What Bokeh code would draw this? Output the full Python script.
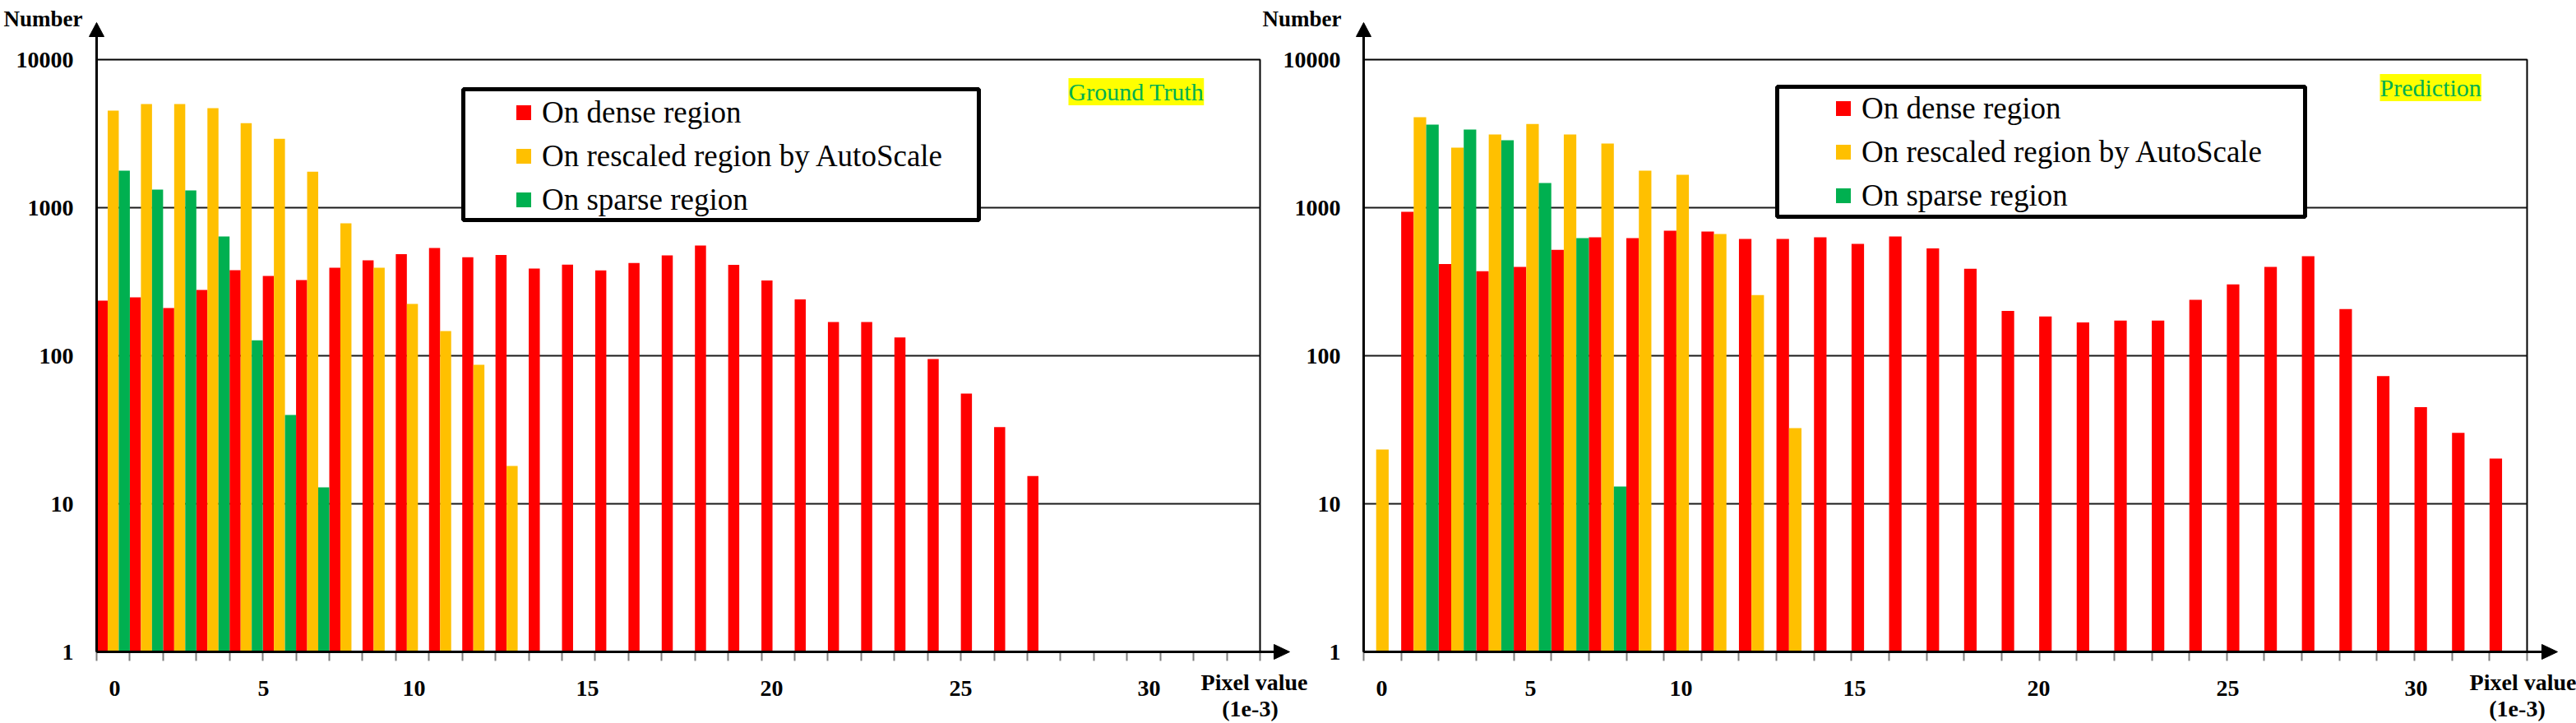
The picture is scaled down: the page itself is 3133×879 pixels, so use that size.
from bokeh.plotting import figure
from bokeh.layouts import row
from bokeh.models import (FixedTicker, PrintfTickFormatter, Label, BoxAnnotation, Legend,
                          LegendItem, Range1d)
from bokeh.core.properties import value
from bokeh.embed import file_html
from bokeh.resources import INLINE

# ---------------- data ----------------
series_names = ["On dense region", "On rescaled region by AutoScale", "On sparse region"]
series_colors = ["#FF0000", "#FFC000", "#00B050"]

# Ground Truth panel: 35 pixel-value bins (0..34)
gt_bins = 35
gt_dense = [236, 248, 210, 278, 378, 346, 324, 393, 441, 486, 534, 463, 479, 388, 412,
            377, 423, 476, 555, 411, 322, 240, 169, 169, 133, 95, 55.5, 33, 15.4]
gt_rescaled = [4520, 5010, 5010, 4700, 3720, 2920, 1750, 784, 393, 224, 147, 87, 18.0]
gt_sparse = [1780, 1325, 1309, 640, 127, 39.8, 12.9]

# Prediction panel: 31 pixel-value bins (0..30)
pr_bins = 31
pr_dense = [None, 938, 417, 372, 398, 519, 631, 622, 698, 690, 615, 615, 631, 570, 640,
            531, 387, 201, 184, 168, 173, 173, 239, 303, 398, 470, 207, 72.8, 45, 30.1, 20.2]
pr_rescaled = [23.3, 4080, 2545, 3120, 3670, 3120, 2710, 1778, 1668, 664, 257, 32.4]
pr_sparse = [None, 3640, 3370, 2855, 1469, 622, 13.1]

xtick_labels = ["0", "5", "10", "15", "20", "25", "30"]
ytick_values = [1, 10, 100, 1000, 10000]
y_title = "Number"
x_title = ["Pixel value", "(1e-3)"]

# ---------------- layout / style constants ----------------
FONT = "Liberation Serif"
FRAME_W, FRAME_H = 1415, 720
TOP_B, BOT_B = 72, 87
FIG_H = TOP_B + FRAME_H + BOT_B
DECADE_PX = FRAME_H / 4.0
BASE_Y = TOP_B + FRAME_H
xlabel_offsets_px = [22, 203, 386, 597, 821, 1051, 1280]


def make_panel(n, series, ax_x, fig_left, width, margin_left, tag, tag_px, box_px,
               leg_px, num_left, pv_cx, e3_cx, tip_x):
    cw = FRAME_W / n
    min_left = ax_x - fig_left
    min_right = width - min_left - FRAME_W

    def X(px):
        return (px - ax_x) / cw

    def Y(py):
        return 10 ** ((BASE_Y - py) / DECADE_PX)

    p = figure(width=width, height=FIG_H, x_range=Range1d(0, n), y_range=Range1d(1, 10000),
               y_axis_type="log", output_backend="svg", toolbar_location=None,
               min_border_left=min_left, min_border_right=min_right,
               min_border_top=TOP_B, min_border_bottom=BOT_B,
               border_fill_color=None, background_fill_color="white",
               outline_line_color="black", outline_line_width=2,
               margin=(0, 0, 0, margin_left))

    # y axis
    ya = p.yaxis[0]
    ya.ticker = FixedTicker(ticks=ytick_values)
    ya.formatter = PrintfTickFormatter(format="%d")
    ya.major_tick_out = 0
    ya.major_tick_in = 0
    ya.minor_tick_out = 0
    ya.minor_tick_in = 0
    ya.axis_line_color = None
    ya.major_label_standoff = 28
    ya.major_label_text_font = FONT
    ya.major_label_text_font_size = "28px"
    ya.major_label_text_font_style = "bold"
    ya.major_label_text_color = "black"

    # x axis: labels on major ticks, bin boundaries as minor ticks
    xa = p.xaxis[0]
    pos = [o / cw for o in xlabel_offsets_px]
    xa.ticker = FixedTicker(ticks=pos, minor_ticks=list(range(n + 1)))
    xa.major_label_overrides = {ps: lab for ps, lab in zip(pos, xtick_labels)}
    xa.major_tick_out = 0
    xa.major_tick_in = 0
    xa.major_tick_line_color = None
    xa.minor_tick_out = 11
    xa.minor_tick_in = 0
    xa.minor_tick_line_color = "#7f7f7f"
    xa.minor_tick_line_width = 2
    xa.axis_line_color = None
    xa.major_label_standoff = 24
    xa.major_label_text_font = FONT
    xa.major_label_text_font_size = "28px"
    xa.major_label_text_font_style = "bold"
    xa.major_label_text_color = "black"

    p.xgrid[0].visible = False
    p.ygrid[0].ticker = FixedTicker(ticks=ytick_values)
    p.ygrid[0].grid_line_color = "#1a1a1a"
    p.ygrid[0].grid_line_width = 2

    # bars
    legend_renderers = []
    for k, (vals, col) in enumerate(zip(series, series_colors)):
        xs = [i + (k + 0.5) / 3.0 for i, v in enumerate(vals) if v]
        tops = [v for v in vals if v]
        p.vbar(x=xs, width=1 / 3.0, bottom=1, top=tops, fill_color=col, line_color=None)
        # hidden square markers, used only for the legend swatches
        legend_renderers.append(p.scatter(x=xs, y=tops, marker="square", size=18,
                                          fill_color=col, line_color=None, visible=False))

    # axis lines with arrow heads (drawn unclipped, outside the frame)
    p.line(x=[0, 0], y=[1, Y(40)], line_color="black", line_width=3, level="overlay")
    p.line(x=[0, X(tip_x - 12)], y=[1, 1], line_color="black", line_width=3, level="overlay")
    hw = 9.0 / cw
    p.patch(x=[-hw, 0, hw], y=[Y(44), Y(27), Y(44)], fill_color="black",
            line_color="black", level="overlay")
    p.patch(x=[X(tip_x - 19), X(tip_x), X(tip_x - 19)],
            y=[Y(BASE_Y - 9), 1, Y(BASE_Y + 9)], fill_color="black",
            line_color="black", level="overlay")

    # legend frame + legend
    p.add_layout(BoxAnnotation(left=X(box_px[0]), right=X(box_px[1]),
                               top=Y(box_px[2]), bottom=Y(box_px[3]),
                               fill_color="white", fill_alpha=1.0,
                               line_color="black", line_alpha=1.0, line_width=5))
    items = [LegendItem(label=name, renderers=[r])
             for name, r in zip(series_names, legend_renderers)]
    leg = Legend(items=items, location=(leg_px[0] - ax_x, BASE_Y - leg_px[1]),
                 glyph_width=45, glyph_height=45, label_height=45, label_standoff=-6,
                 spacing=8, padding=0, margin=0, border_line_color=None,
                 background_fill_alpha=0, label_text_font=FONT,
                 label_text_font_size="37px", label_text_color="black")
    p.add_layout(leg)

    # panel tag
    p.add_layout(Label(x=X(tag_px[0]), y=Y(tag_px[1]), text=tag, text_align="left",
                       text_baseline="middle", text_font=FONT, text_font_size="30px",
                       text_color="#00B050", background_fill_color="#FFFF00"))

    # axis titles (outside the frame, drawn unclipped)
    p.text(x=[X(num_left)], y=[Y(22)], text=[y_title], text_align="left",
           text_baseline="alphabetic", text_font=value(FONT), text_font_size="27px",
           text_font_style="bold", text_color="black", level="overlay")
    p.text(x=[X(pv_cx), X(e3_cx)], y=[Y(829), Y(861)], text=x_title, text_align="center",
           text_baseline="middle", text_font=value(FONT), text_font_size="28px",
           text_font_style="bold", text_color="black", level="overlay")
    return p


p1 = make_panel(gt_bins, [gt_dense, gt_rescaled, gt_sparse], ax_x=117, fig_left=0,
                width=1600, margin_left=0, tag="Ground Truth", tag_px=(1299, 111),
                box_px=(563, 1190, 108, 267), leg_px=(614, 264.5), num_left=4,
                pv_cx=1525, e3_cx=1520, tip_x=1568)
p2 = make_panel(pr_bins, [pr_dense, pr_rescaled, pr_sparse], ax_x=1658, fig_left=1530,
                width=1603, margin_left=-70, tag="Prediction", tag_px=(2894, 106),
                box_px=(2161, 2803, 105, 263), leg_px=(2219, 259.5), num_left=1535,
                pv_cx=3068, e3_cx=3061, tip_x=3110)

layout = row(p1, p2)
open("out.html", "w").write(file_html(layout, INLINE))
